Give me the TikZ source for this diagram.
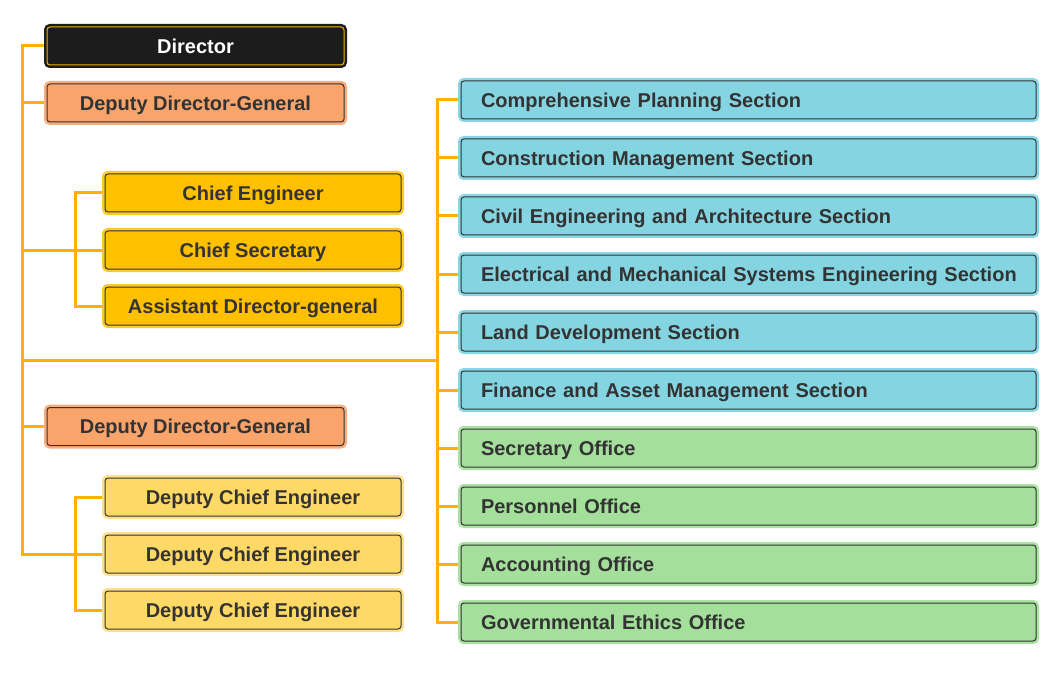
\documentclass[tikz,border=0pt]{standalone}
\usepackage{fontspec}
\setmainfont{Liberation Sans}
\usepackage{xcolor}
\usepackage{tikz}
\usetikzlibrary{backgrounds}
\definecolor{linkc}{HTML}{FFB000}
\definecolor{txtc}{HTML}{333333}
\definecolor{dirfill}{HTML}{1C1C1C}
\definecolor{dirline}{HTML}{F0B400}
\definecolor{ddgfill}{HTML}{F8A46B}
\definecolor{ddgring}{HTML}{FAAD7C}
\definecolor{chieffill}{HTML}{FFC000}
\definecolor{chiefring}{HTML}{FFC82E}
\definecolor{dcefill}{HTML}{FFD966}
\definecolor{dcering}{HTML}{FFE08A}
\definecolor{secfill}{HTML}{85D4E2}
\definecolor{secring}{HTML}{89D7E6}
\definecolor{offfill}{HTML}{A4DF9B}
\definecolor{offring}{HTML}{A9E2A1}
\tikzset{
  box/.style={rectangle, rounded corners=3pt, line width=1pt, draw=txtc,
    text=txtc, font=\fontsize{20}{24}\selectfont\bfseries,
    minimum height=38pt, inner sep=0pt, text height=15pt, text depth=0.6pt,
    preaction={draw=#1, line width=6pt}},
  dirbox/.style={box=dirfill, fill=dirfill, draw=dirline, text=white, minimum width=297pt},
  ddgbox/.style={box=ddgring, fill=ddgfill, minimum width=297pt},
  chiefbox/.style={box=chiefring, fill=chieffill, minimum width=296pt},
  dcebox/.style={box=dcering, fill=dcefill, minimum width=296pt},
  unitbox/.style={box=#1, text width=565pt, inner xsep=5pt, align=left,
    execute at begin node={\hspace*{15pt}}},
  secbox/.style={unitbox=secring, fill=secfill},
  offbox/.style={unitbox=offring, fill=offfill},
  link/.style={draw=linkc, line width=3pt}
}

\begin{document}
\begin{tikzpicture}[x=1pt,y=-1pt]
  \useasboundingbox (0,0) rectangle (1059,676);
  % left column
  \node[dirbox] (dir) at (195.5,46) {Director};
  \node[ddgbox] (ddg1) at (195.5,103) {Deputy Director-General};
  \node[chiefbox] (ce) at (253,193) {Chief Engineer};
  \node[chiefbox] (cs) at (253,250) {Chief Secretary};
  \node[chiefbox] (adg) at (253,306) {Assistant Director-general};
  \node[ddgbox] (ddg2) at (195.5,426.5) {Deputy Director-General};
  \node[dcebox] (dce1) at (253,497) {Deputy Chief Engineer};
  \node[dcebox] (dce2) at (253,554) {Deputy Chief Engineer};
  \node[dcebox] (dce3) at (253,610) {Deputy Chief Engineer};
  % right column
  \foreach \t [count=\i] in {Comprehensive Planning Section,
      Construction Management Section,
      Civil Engineering and Architecture Section,
      Electrical and Mechanical Systems Engineering Section,
      Land Development Section,
      Finance and Asset Management Section}
    \node[secbox] (u\i) at (748.5,{100+58*(\i-1)}) {\t};
  \foreach \t [count=\i from 7] in {Secretary Office,
      Personnel Office,
      Accounting Office,
      Governmental Ethics Office}
    \node[offbox] (u\i) at (748.5,{100+58*(\i-1)}) {\t};

  \coordinate (lbot) at (22,554);
  \coordinate (lmid) at (22,360);
  \coordinate (rmid) at (437,360);
  \coordinate (csub) at (75,250);
  \coordinate (dsub) at (75,554);
  % connectors
  \begin{scope}[on background layer]
  \draw[link] (dir.west) -| (lbot) -- (dce2.west);
  \draw[link] (ddg1.west) -- (ddg1.west -| lbot);
  \draw[link] (ddg2.west) -- (ddg2.west -| lbot);
  \draw[link] (cs.west) -- (cs.west -| lbot);
  \draw[link] (ce.west) -| (csub) |- (adg.west);
  \draw[link] (dce1.west) -| (dsub) |- (dce3.west);
  \draw[link] (lmid) -- (rmid);
  \draw[link] (u1.west) -| (rmid) |- (u10.west);
  \foreach \i in {2,...,9}
    \draw[link] (u\i.west) -- (u\i.west -| rmid);
  \end{scope}
\end{tikzpicture}
\end{document}
